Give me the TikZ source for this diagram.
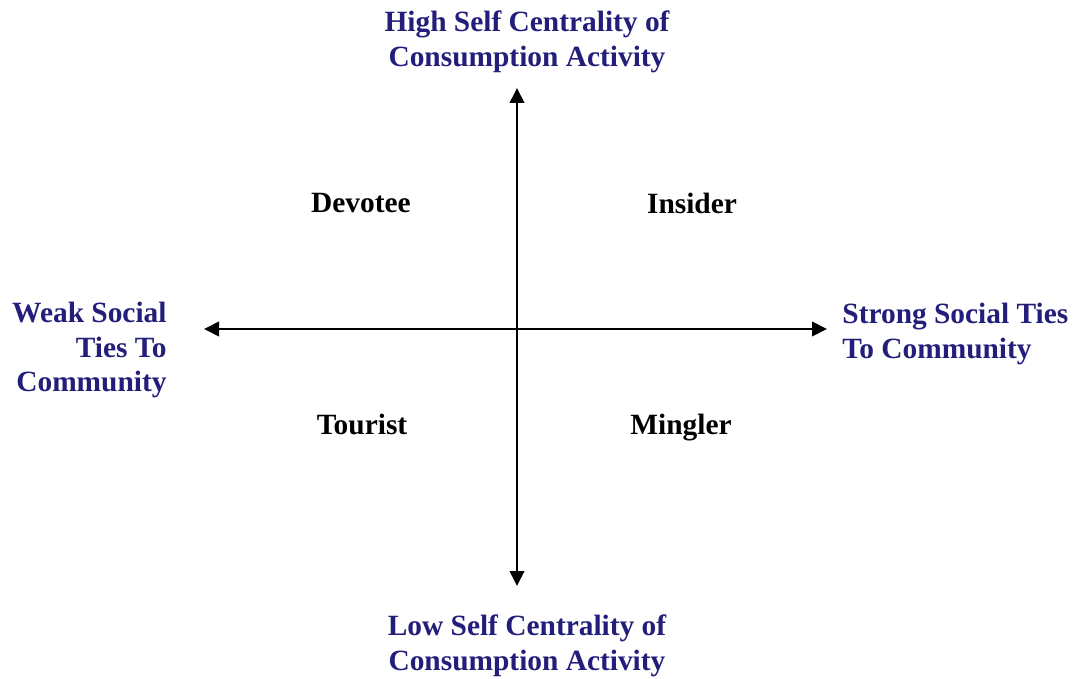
\documentclass[tikz,border=0pt]{standalone}
\usepackage{fontspec}
\setmainfont{Liberation Serif}
\usetikzlibrary{arrows.meta}
\definecolor{axisblue}{RGB}{35,30,122}
\begin{document}
\begin{tikzpicture}[x=0.5pt,y=-0.5pt,
  axis/.style={line width=1.2pt,-{Triangle[length=7.5pt,width=7.2pt]}},
  axislabel/.style={font=\fontsize{14.7}{17.4}\selectfont\bfseries,text=axisblue,inner sep=0pt},
  quadrant/.style={font=\fontsize{14.7}{17}\selectfont\bfseries,text=black,inner sep=0pt,anchor=base}]
  \useasboundingbox (0,0) rectangle (1081,679);
  % axes
  \coordinate (o) at (517,329);
  \coordinate (top) at (517,88);
  \coordinate (bot) at (517,586);
  \coordinate (lft) at (204,329);
  \coordinate (rgt) at (827,329);
  \draw[axis] (o) -- (top);
  \draw[axis] (o) -- (bot);
  \draw[axis] (o) -- (lft);
  \draw[axis] (o) -- (rgt);
  % axis labels
  \node[axislabel,align=center] (high) at (527,41.5) {High Self Centrality of\\Consumption Activity};
  \node[axislabel,align=center] (low) at (527,646) {Low Self Centrality of\\Consumption Activity};
  \node[axislabel,align=right,anchor=east] (weak) at (167,350) {Weak Social\\Ties To\\Community};
  \node[axislabel,align=left,anchor=west] (strong) at (842,334) {Strong Social Ties\\To Community};
  % quadrants
  \node[quadrant] (devotee) at (361,213) {Devotee};
  \node[quadrant] (insider) at (692,214) {Insider};
  \node[quadrant] (tourist) at (362,434) {Tourist};
  \node[quadrant] (mingler) at (681,434) {Mingler};
\end{tikzpicture}
\end{document}
